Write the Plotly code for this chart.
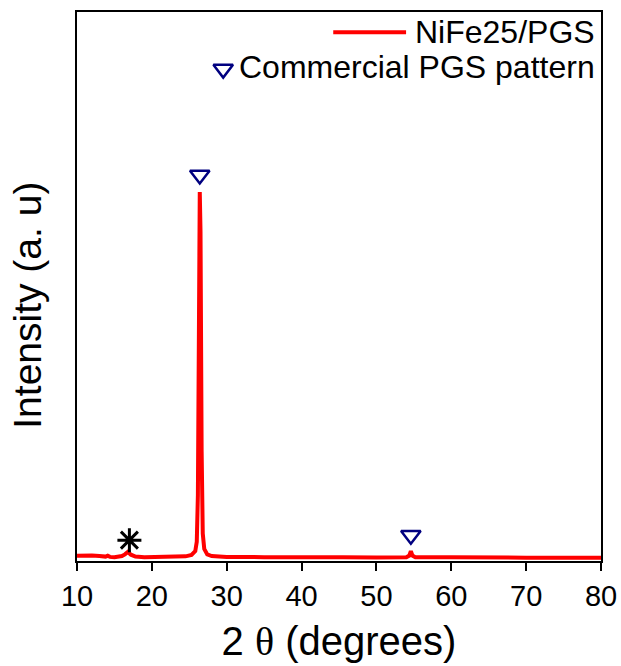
import plotly.graph_objects as go

# XRD pattern of NiFe25/PGS (2θ in degrees, intensity in arbitrary units)
two_theta = [10, 11, 12, 13, 13.8, 14.1, 14.4, 15, 16, 16.4, 16.8, 17.2, 17.8, 19, 21, 23,
             24.5, 25.3, 25.8, 26.0, 26.15, 26.3, 26.4, 26.5, 26.65, 26.8, 27.0, 27.4, 28,
             30, 35, 40, 44.5, 45, 45.5, 50, 54.0, 54.4, 54.6, 54.8, 55.2, 60, 65, 70, 78, 80]
intensity = [0.95, 1.05, 1.0, 0.9, 0.8, 0.95, 0.75, 0.7, 0.9, 1.2, 1.65, 1.15, 0.8, 0.7, 0.7, 0.75,
             0.85, 1.1, 1.8, 3.5, 12, 45, 67.2, 60, 20, 5, 2.2, 1.2, 0.9,
             0.75, 0.7, 0.7, 0.75, 0.85, 0.7, 0.65, 0.7, 1.0, 1.8, 1.0, 0.7, 0.7, 0.6, 0.6, 0.6, 0.6]

# Commercial PGS reference peaks (triangle markers)
pgs_pos = [26.4, 54.6]
pgs_mark = [70.3, 4.7]

# impurity peak (asterisk)
star_pos = [17.0]
star_mark = [3.8]

x_ticks = [10, 20, 30, 40, 50, 60, 70, 80]

FONT = "Liberation Sans, Arial, sans-serif"

fig = go.Figure()
fig.add_trace(go.Scatter(x=two_theta, y=intensity, mode="lines",
                         line=dict(color="#ff0000", width=4), showlegend=False))
fig.add_trace(go.Scatter(x=pgs_pos, y=pgs_mark, mode="markers",
                         marker=dict(symbol="triangle-down-open", size=17, color="#000080",
                                     line=dict(width=2.5, color="#000080")),
                         showlegend=False))
fig.add_trace(go.Scatter(x=star_pos, y=star_mark, mode="markers",
                         marker=dict(symbol="asterisk-open", size=20, color="black",
                                     line=dict(width=3, color="black")),
                         showlegend=False))

# manual legend (overlay axis in 0..1 units)
fig.add_trace(go.Scatter(x=[0.279], y=[0.896], xaxis="x2", yaxis="y2", mode="markers",
                         marker=dict(symbol="triangle-down-open", size=17, color="#000080",
                                     line=dict(width=2.5, color="#000080")),
                         showlegend=False, hoverinfo="skip"))
fig.add_shape(type="line", xref="paper", yref="paper", x0=0.489, x1=0.628, y0=0.963, y1=0.963,
              line=dict(color="#ff0000", width=4))
fig.add_annotation(xref="paper", yref="paper", x=0.992, y=0.964, xanchor="right", yanchor="middle",
                   text="NiFe25/PGS", showarrow=False, font=dict(family=FONT, size=32, color="black"))
fig.add_annotation(xref="paper", yref="paper", x=0.992, y=0.900, xanchor="right", yanchor="middle",
                   text="Commercial PGS pattern", showarrow=False,
                   font=dict(family=FONT, size=32, color="black"))
# y-axis title
fig.add_annotation(xref="paper", yref="paper", x=0, xshift=-49, y=0.465, xanchor="center",
                   yanchor="middle", textangle=-90, text="Intensity (a. u)", showarrow=False,
                   font=dict(family=FONT, size=39, color="black"))

fig.update_layout(
    width=621, height=666,
    margin=dict(l=77, r=20, t=12, b=105),
    paper_bgcolor="white", plot_bgcolor="white",
    font=dict(family=FONT, color="black"),
    xaxis=dict(range=[10, 80], tickvals=x_ticks, ticks="outside", ticklen=8, tickwidth=2,
               tickcolor="black", showline=True, linecolor="black", linewidth=2, mirror=True,
               showgrid=False, zeroline=False, tickfont=dict(family=FONT, size=29), automargin=False,
               title=dict(text='2 <span style="font-family:Liberation Serif">θ</span> (degrees)',
                          font=dict(family=FONT, size=40), standoff=16)),
    yaxis=dict(range=[0, 100], showticklabels=False, ticks="", showline=True, linecolor="black",
               linewidth=2, mirror=True, showgrid=False, zeroline=False, automargin=False),
    xaxis2=dict(range=[0, 1], overlaying="x", visible=False),
    yaxis2=dict(range=[0, 1], overlaying="y", visible=False),
)

fig.write_html("out.html")
